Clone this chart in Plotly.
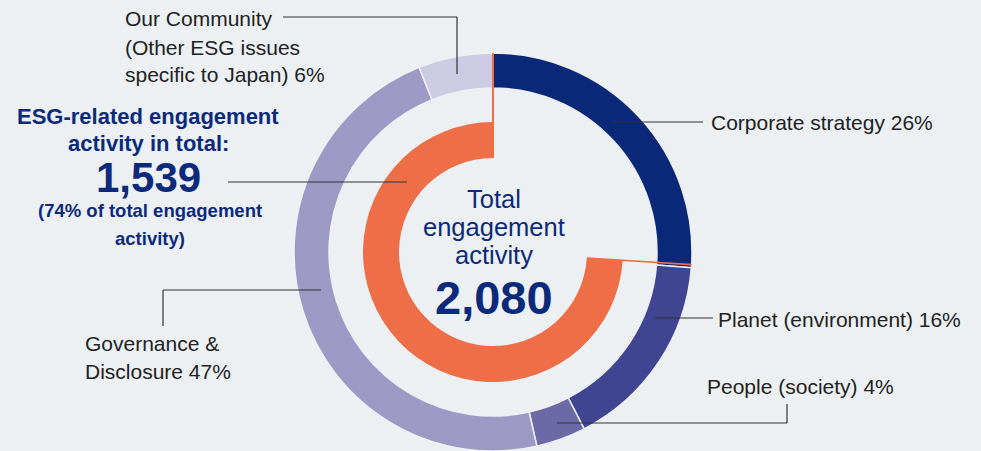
import math
import plotly.graph_objects as go

# ---- data ----
categories = ["Corporate strategy", "Planet (environment)", "People (society)",
              "Governance & Disclosure", "Our Community"]
shares = [26, 16, 4, 47, 6]          # % of total engagement activity
total_activity = 2080
esg_activity = 1539
esg_share = 74

# ---- style ----
W, H = 981, 451
BG = "#ecf0f3"
NAVY = "#0b2a7b"
ORANGE = "#ee6e48"
seg_colors = ["#0a2878", "#3f4590", "#6c6aa6", "#9d99c4", "#cdcbe3"]
LABEL = "#222222"
FONT = "Liberation Sans, Arial, Helvetica, sans-serif"

cx, cy = 493, 252        # pixel centre of the rings
R_out, r_out = 199, 164
R_in, r_in = 130, 94

def px_domain(r):
    return dict(x=[(cx - r) / W, (cx + r) / W],
                y=[(H - cy - r) / H, (H - cy + r) / H])

fig = go.Figure()
fig.add_trace(go.Pie(
    labels=categories, values=shares, sort=False, direction="clockwise",
    rotation=0, hole=r_out / R_out, domain=px_domain(R_out),
    marker=dict(colors=seg_colors, line=dict(color="#eef0f6", width=1.5)),
    textinfo="none", hoverinfo="label+percent", showlegend=False))

non_esg = total_activity - esg_activity
fig.add_trace(go.Pie(
    labels=["Other", "ESG-related"], values=[non_esg, esg_activity], sort=False,
    direction="clockwise", rotation=0, hole=r_in / R_in, domain=px_domain(R_in),
    marker=dict(colors=["rgba(0,0,0,0)", ORANGE], line=dict(width=0)),
    textinfo="none", hoverinfo="label+value", showlegend=False))

def P(x, y):
    return x / W, 1 - y / H

shapes = []
def seg(x0, y0, x1, y1, color="#333333", width=1.2):
    a, b = P(x0, y0)
    c, d = P(x1, y1)
    shapes.append(dict(type="line", xref="paper", yref="paper", x0=a, y0=b,
                       x1=c, y1=d, line=dict(color=color, width=width)))

# orange boundary lines of the ESG share, derived from the data angles
for frac, wdt in [(0.0, 2), (non_esg / total_activity, 1.6)]:
    ang = 2 * math.pi * frac
    x0 = cx + r_in * math.sin(ang); y0 = cy - r_in * math.cos(ang)
    x1 = cx + R_out * math.sin(ang); y1 = cy - R_out * math.cos(ang)
    seg(x0, y0, x1, y1, color=ORANGE, width=wdt)

# leader lines
seg(283, 17, 457, 17); seg(457, 17, 457, 74)
seg(613, 122, 703, 122)
seg(228, 182, 407, 182)
seg(321, 290, 163, 290); seg(163, 290, 163, 326)
seg(655, 318, 713, 318)
seg(557, 423, 787, 423); seg(787, 423, 787, 404)

ann = []
def txt(s, x, y, size, color=LABEL, anchor="left", family=FONT, weight="normal"):
    a, b = P(x, y)
    ann.append(dict(text=s, x=a, y=b, xref="paper", yref="paper",
                    xanchor=anchor, yanchor="middle", showarrow=False,
                    font=dict(family=family, size=size, color=color, weight=weight)))

fs = 21
txt("Our Community", 123, 18, fs)
txt("(Other ESG issues", 123, 47, fs)
txt(f"specific to Japan) {shares[4]}%", 123, 75, fs)
txt(f"Corporate strategy {shares[0]}%", 709, 122, fs)
txt(f"Planet (environment) {shares[1]}%", 716, 319, fs)
txt(f"People (society) {shares[2]}%", 705, 386, fs)
txt("Governance &", 83, 343, fs)
txt(f"Disclosure {shares[3]}%", 83, 371, fs)

txt("ESG-related engagement", 148, 117, 22, NAVY, "center", weight="bold")
txt("activity in total:", 148, 143, 22, NAVY, "center", weight="bold")
txt(f"{esg_activity:,}", 148, 177, 42, NAVY, "center", weight="bold")
txt(f"({esg_share}% of total engagement", 150, 211, 18.5, NAVY, "center", weight="bold")
txt("activity)", 150, 238, 18.5, NAVY, "center", weight="bold")

txt("Total", 494, 199, 25.5, NAVY, "center")
txt("engagement", 494, 227, 25.5, NAVY, "center")
txt("activity", 494, 255, 25.5, NAVY, "center")
txt(f"{total_activity:,}", 494, 297, 47, NAVY, "center", weight="bold")

fig.update_layout(width=W, height=H, margin=dict(l=0, r=0, t=0, b=0),
                  paper_bgcolor=BG, plot_bgcolor=BG, shapes=shapes,
                  annotations=ann)
fig.write_html("out.html", config={"displayModeBar": False},
               post_script="document.body.style.margin='0';document.body.style.overflow='hidden';")
